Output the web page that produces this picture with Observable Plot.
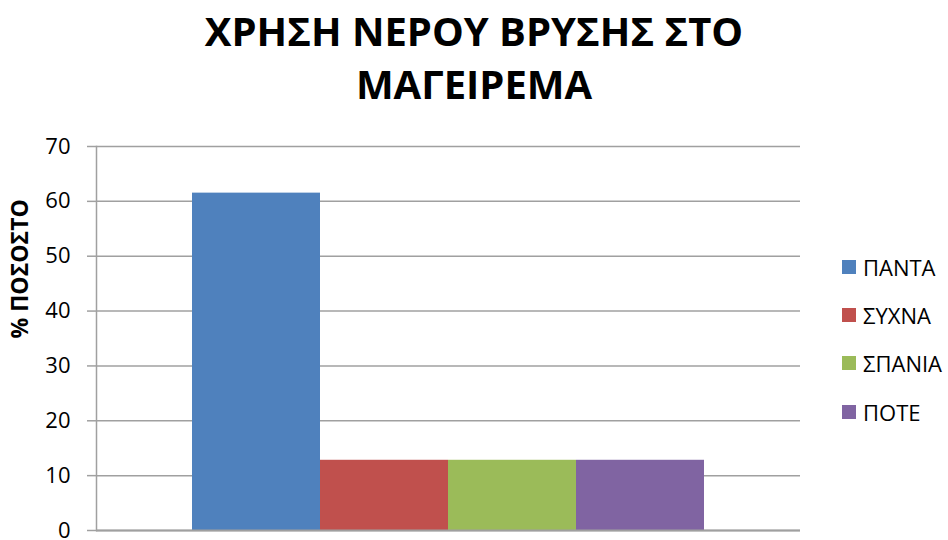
<!DOCTYPE html>
<html>
<head>
<meta charset="utf-8">
<script src="https://cdn.jsdelivr.net/npm/d3@7"></script>
<script src="https://cdn.jsdelivr.net/npm/@observablehq/plot@0.6"></script>
<style>
  body { margin: 0; background: #fff; font-family: "Open Sans", sans-serif; }
  #wrap { position: relative; width: 948px; height: 540px; overflow: hidden; }
  #title { position: absolute; left: 0; top: 4px; width: 948px; text-align: center;
           font-weight: bold; font-size: 40px; line-height: 53px; color: #000; }
  #chart { position: absolute; left: 0; top: 126px; }
  .lg { position: absolute; left: 842px; height: 30px; display: flex; align-items: center;
        font-size: 22px; color: #000; white-space: nowrap; }
  .lg span.sw { display: inline-block; width: 14px; height: 14px; margin-right: 7px; }
</style>
</head>
<body>
<div id="wrap">
  <div id="title">ΧΡΗΣΗ ΝΕΡΟΥ ΒΡΥΣΗΣ ΣΤΟ<br>ΜΑΓΕΙΡΕΜΑ</div>
  <div id="chart"></div>
</div>
<script>
const categories = ["ΠΑΝΤΑ", "ΣΥΧΝΑ", "ΣΠΑΝΙΑ", "ΠΟΤΕ"];
const values = [61.5, 12.8, 12.8, 12.8];
const yTicks = [0, 10, 20, 30, 40, 50, 60, 70];
const colors = ["#4F81BD", "#C0504D", "#9BBB59", "#8064A2"];
const yLabel = "% ΠΟΣΟΣΤΟ";

const data = categories.map((c, i) => ({category: c, value: values[i]}));
const gridColor = "#a0a0a0";

const chart = Plot.plot({
  width: 948,
  height: 414,
  marginTop: 20,
  marginBottom: 10,
  marginLeft: 96,
  marginRight: 148,
  style: {fontFamily: "'Open Sans', sans-serif", fontSize: "22px", color: "#000", background: "#fff", overflow: "visible"},
  x: {domain: categories, paddingInner: 0, paddingOuter: 0.75, axis: null},
  y: {domain: [0, 70], ticks: yTicks, label: null},
  color: {domain: categories, range: colors},
  marks: [
    Plot.gridY(yTicks, {stroke: gridColor, strokeOpacity: 1, strokeWidth: 1.5}),
    Plot.axisY(yTicks, {tickSize: 9, tickPadding: 17, stroke: gridColor, strokeWidth: 1.5, label: null, fill: "#000"}),
    Plot.barY(data, {x: "category", y: "value", fill: "category"}),
    Plot.ruleY([0], {stroke: gridColor, strokeWidth: 2}),
    Plot.frame({anchor: "left", stroke: gridColor, strokeWidth: 1.5}),
    Plot.text([yLabel], {frameAnchor: "left", text: d => d, rotate: -90, dx: -76,
      fontWeight: "bold", fontSize: 23, fill: "#000"})
  ]
});
document.getElementById("chart").appendChild(chart);

const centers = [267, 315, 363, 412];
const wrap = document.getElementById("wrap");
categories.forEach((c, i) => {
  const row = document.createElement("div");
  row.className = "lg";
  row.style.top = (centers[i] - 15) + "px";
  const sw = document.createElement("span");
  sw.className = "sw";
  sw.style.background = colors[i];
  row.appendChild(sw);
  row.appendChild(document.createTextNode(c));
  wrap.appendChild(row);
});
</script>
</body>
</html>
